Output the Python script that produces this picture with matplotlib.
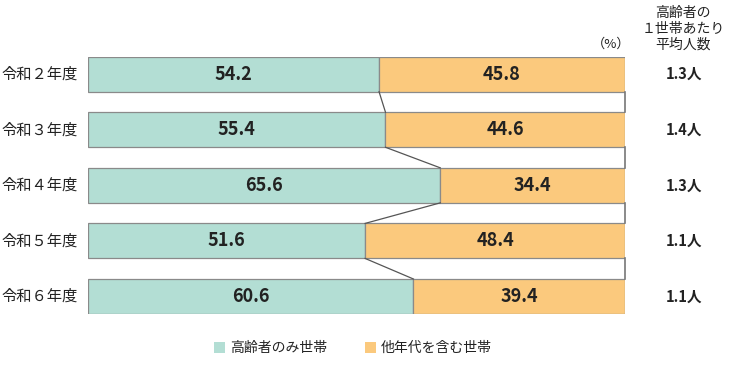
import matplotlib
matplotlib.use("Agg")
import matplotlib.pyplot as plt
from matplotlib.patches import Rectangle

plt.rcParams['font.family'] = ['Noto Sans CJK JP', 'DejaVu Sans']

categories = ["令和２年度", "令和３年度", "令和４年度", "令和５年度", "令和６年度"]
elderly_only = [54.2, 55.4, 65.6, 51.6, 60.6]
with_others = [45.8, 44.6, 34.4, 48.4, 39.4]
avg_persons = ["1.3人", "1.4人", "1.3人", "1.1人", "1.1人"]
series_names = ["高齢者のみ世帯", "他年代を含む世帯"]

teal = "#b3ded4"
orange = "#fbc97d"
edge = "#8a8a8a"

fig = plt.figure(figsize=(7.3, 3.7), dpi=100)
ax = fig.add_axes([88/730, 1-314/370, (625-88)/730, (314-56.7)/370])
h = 0.63
ys = list(range(len(categories)))
ax.barh(ys, elderly_only, height=h, color=teal, edgecolor=edge, linewidth=0.9)
ax.barh(ys, with_others, left=elderly_only, height=h, color=orange, edgecolor=edge, linewidth=0.9)
ax.set_xlim(0, 100)
ax.set_ylim(len(categories)-1+h/2, -h/2)
ax.axis('off')

# series lines
for i in range(len(categories)-1):
    ax.plot([elderly_only[i], elderly_only[i+1]], [i+h/2, i+1-h/2], color="#555555", lw=0.9, clip_on=False)
    tot0 = elderly_only[i] + with_others[i]
    tot1 = elderly_only[i+1] + with_others[i+1]
    ax.plot([tot0, tot1], [i+h/2, i+1-h/2], color="#777777", lw=1.2, clip_on=False)

for i in ys:
    ax.text(elderly_only[i]/2, i, f"{elderly_only[i]:.1f}", ha='center', va='center',
            fontsize=13, fontweight='bold', color='#222222')
    ax.text(elderly_only[i] + with_others[i]/2, i, f"{with_others[i]:.1f}", ha='center', va='center',
            fontsize=13, fontweight='bold', color='#222222')
    ax.text(-2.0, i, categories[i], ha='right', va='center', fontsize=11, color='#222222')
    ax.text(111, i, avg_persons[i], ha='center', va='center', fontsize=10.5,
            fontweight='bold', color='#222222')

fig.text(683/730, 1-29/370, "高齢者の\n１世帯あたり\n平均人数", ha='center', va='center',
         fontsize=10, linespacing=1.15, color='#222222')
fig.text(611/730, 1-44/370, "（%）", ha='center', va='center', fontsize=9.5, color='#222222')

# legend
fig.patches.append(Rectangle((214/730, 1-353/370), 11/730, 11/370, transform=fig.transFigure,
                             facecolor=teal, edgecolor='none'))
fig.text(230/730, 1-348/370, series_names[0], ha='left', va='center', fontsize=10, color='#222222')
fig.patches.append(Rectangle((365/730, 1-353/370), 11/730, 11/370, transform=fig.transFigure,
                             facecolor=orange, edgecolor='none'))
fig.text(381/730, 1-348/370, series_names[1], ha='left', va='center', fontsize=10, color='#222222')

fig.savefig("out.png", dpi=100, facecolor='white')
